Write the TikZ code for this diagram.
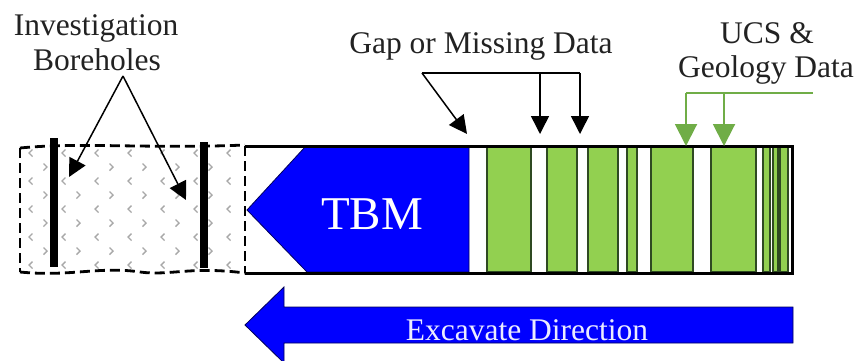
\documentclass[tikz,border=0pt]{standalone}
\usepackage{fontspec}
\setmainfont{Liberation Serif}
\usetikzlibrary{arrows.meta}
\definecolor{bandgreen}{HTML}{92D050}
\definecolor{arrowgreen}{HTML}{70AD47}
\definecolor{bandline}{HTML}{2F4A22}
\definecolor{tbmblue}{HTML}{0000FF}
\definecolor{markgray}{HTML}{A8A8A8}
\definecolor{txt}{HTML}{222222}
\begin{document}
\begin{tikzpicture}[x=1pt,y=-1pt,
  lbl/.style={font=\fontsize{31.5}{35}\selectfont, anchor=base, inner sep=0pt, text=txt},
  blkarrow/.style={line width=1.5pt, -{Triangle[length=18pt,width=18pt]}},
  grnarrow/.style={draw=arrowgreen, line width=2pt, -{Triangle[length=22pt,width=22pt]}},
  band/.style={fill=bandgreen, draw=bandline, line width=1.2pt},
  dashedge/.style={line width=2.8pt, dash pattern=on 10pt off 5pt},
  borebar/.style={line width=8pt},
  chev/.style={draw=markgray, line width=1.4pt},
  bluefill/.style={fill=tbmblue, draw=blue!35!black, line width=0.8pt}
]
\useasboundingbox (0,0) rectangle (858,360);
\fill[white] (0,0) rectangle (858,360);

% labels
\node[lbl] (inv) at (96,35) {Investigation};
\node[lbl] (bore) at (97,70) {Boreholes};
\node[lbl] (gap) at (481,53) {Gap or Missing Data};
\node[lbl] (ucs) at (767,43) {UCS \&};
\node[lbl] (geo) at (766,77) {Geology Data};

% borehole region pattern
\foreach \yy in {153,181,209,237,265}
  \foreach \xx in {30,63,...,240}
    \draw[chev] (\xx+2.5,\yy-3.5) -- (\xx-1,\yy) -- (\xx+2.5,\yy+3.5);
\foreach \yy in {167,195,223,251}
  \foreach \xx in {46,79,...,240}
    \draw[chev] (\xx-2.5,\yy-3.5) -- (\xx+1,\yy) -- (\xx-2.5,\yy+3.5);

% dashed borehole region outline
\draw[dashedge] (20,148) .. controls (80,142) and (150,149) .. (245,145);
\draw[dashedge] (20,272) .. controls (70,277) and (100,266) .. (140,272)
                         .. controls (170,276) and (190,266) .. (245,273);
\draw[dashedge] (20,148) -- (20,272);

% borehole bars
\draw[borebar] (54,138) -- (54,267);
\draw[borebar] (204,142) -- (204,268);

% main box
\fill[white] (245,146) rectangle (792,273);
\filldraw[bluefill] (247,210) -- (305,147) -- (469,147) -- (469,272) -- (307,272) -- cycle;
\node[anchor=base, inner sep=0pt, font=\fontsize{47}{50}\selectfont, text=white] (tbm) at (372,229) {TBM};

\foreach \a/\b in {487/531,547/577,588/618,627/637,651/693,711/756,763/770,773/778,780/788}
  \filldraw[band] (\a,147) rectangle (\b,272);

\draw[line width=3pt] (245,146) -- (792,146) -- (792,273) -- (245,273);
\draw[dashedge] (245,146) -- (245,273);

% borehole arrows
\coordinate (bh) at (123,76);
\coordinate (bhL) at (69,177);
\coordinate (bhR) at (186,200);
\draw[blkarrow] (bh) -- (bhL);
\draw[blkarrow] (bh) -- (bhR);

% gap arrows
\coordinate (g0) at (422,73);
\coordinate (g1) at (540,73);
\coordinate (g2) at (580,73);
\coordinate (gt0) at (467,134);
\coordinate (gt1) at (540,134);
\coordinate (gt2) at (580,134);
\draw[line width=1.5pt] (g0) -- (g2);
\draw[blkarrow] (g0) -- (gt0);
\draw[blkarrow] (g1) -- (gt1);
\draw[blkarrow] (g2) -- (gt2);

% UCS arrows
\coordinate (u0) at (686,93);
\coordinate (u1) at (724,93);
\coordinate (u2) at (813,93);
\coordinate (ut0) at (686,146);
\coordinate (ut1) at (724,146);
\draw[draw=arrowgreen, line width=2pt] (u0) -- (u2);
\draw[grnarrow] (u0) -- (ut0);
\draw[grnarrow] (u1) -- (ut1);

% excavate direction arrow
\filldraw[bluefill] (245,325) -- (284,287) -- (284,307) -- (793,307) -- (793,343) -- (284,343) -- (284,363) -- cycle;
\node[anchor=base, inner sep=0pt, font=\fontsize{31.5}{35}\selectfont, text=white!92!blue] (exc) at (527,340) {Excavate Direction};
\end{tikzpicture}
\end{document}
